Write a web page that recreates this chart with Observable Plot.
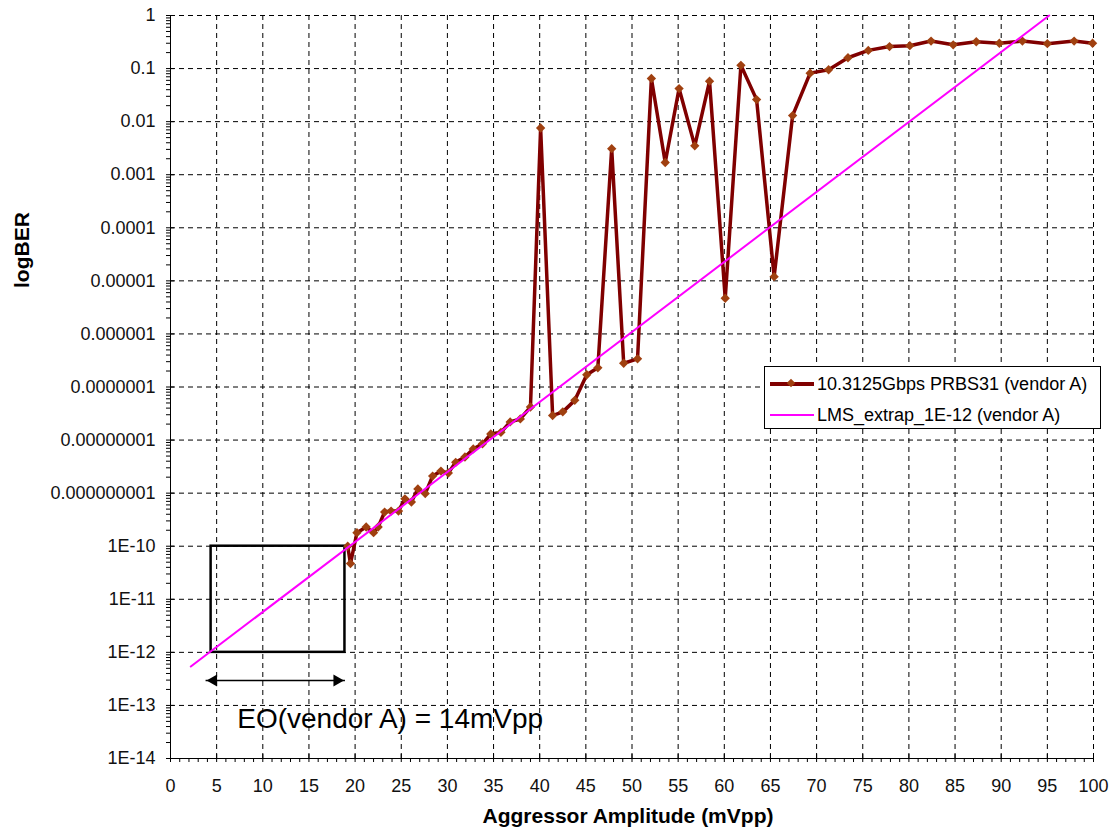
<!DOCTYPE html>
<html><head><meta charset="utf-8">
<script src="https://cdn.jsdelivr.net/npm/d3@7"></script>
<script src="https://cdn.jsdelivr.net/npm/@observablehq/plot@0.6"></script>
<style>
body{margin:0;background:#fff;}
#wrap{position:relative;width:1110px;height:837px;font-family:"Liberation Sans",Arial,sans-serif;background:#fff;}
#legend{position:absolute;left:764px;top:366px;width:337px;height:63px;border:1px solid #000;background:#fff;box-sizing:border-box;}
.row{position:absolute;left:0;height:24px;display:flex;align-items:center;font-size:18px;color:#000;white-space:nowrap;}
.sw{position:relative;width:44px;height:24px;margin-left:5px;margin-right:3px;}
.sw .ln{position:absolute;left:0;right:0;top:50%;}
.sw .dm{position:absolute;left:18px;top:8px;width:6px;height:6px;background:#a04010;transform:rotate(45deg);}
</style></head>
<body><div id="wrap"></div>
<script>
// ---- data ----
const berX = [19.2, 19.5, 20.2, 21.2, 22.0, 22.5, 23.2, 23.9, 24.7, 25.4, 26.1, 26.8, 27.6, 28.4, 29.3, 30.1, 30.9, 31.9, 32.8, 33.8, 34.7, 35.8, 36.8, 37.9, 39.0, 40.1, 41.4, 42.5, 43.8, 45.1, 46.3, 47.8, 49.1, 50.6, 52.1, 53.6, 55.1, 56.8, 58.4, 60.1, 61.8, 63.5, 65.4, 67.4, 69.3, 71.3, 73.4, 75.6, 77.9, 80.1, 82.4, 84.8, 87.3, 89.8, 92.3, 95.0, 97.9, 99.9];
const berY = [1.0e-10, 4.7e-11, 1.8e-10, 2.3e-10, 1.8e-10, 2.3e-10, 4.4e-10, 4.6e-10, 4.6e-10, 7.8e-10, 6.8e-10, 1.2e-9, 9.8e-10, 2.1e-9, 2.6e-9, 2.4e-9, 3.8e-9, 4.8e-9, 6.8e-9, 8.5e-9, 1.3e-8, 1.4e-8, 2.2e-8, 2.5e-8, 4.2e-8, 7.6e-3, 2.9e-8, 3.4e-8, 5.6e-8, 1.7e-7, 2.3e-7, 3.1e-3, 2.8e-7, 3.4e-7, 6.5e-2, 1.7e-3, 4.2e-2, 3.5e-3, 5.8e-2, 4.7e-6, 1.15e-1, 2.6e-2, 1.2e-5, 1.3e-2, 8.2e-2, 9.5e-2, 1.6e-1, 2.2e-1, 2.6e-1, 2.7e-1, 3.3e-1, 2.8e-1, 3.2e-1, 3.0e-1, 3.3e-1, 2.95e-1, 3.3e-1, 3.0e-1];
const fitX = [2.2, 95.2];
const fitY = [5.4e-13, 1];
const seriesNames = ["10.3125Gbps PRBS31 (vendor A)", "LMS_extrap_1E-12 (vendor A)"];
const xTicks = [0, 5, 10, 15, 20, 25, 30, 35, 40, 45, 50, 55, 60, 65, 70, 75, 80, 85, 90, 95, 100];
const yTicks = [1, 1e-1, 1e-2, 1e-3, 1e-4, 1e-5, 1e-6, 1e-7, 1e-8, 1e-9, 1e-10, 1e-11, 1e-12, 1e-13, 1e-14];
const yTickLabels = ["1", "0.1", "0.01", "0.001", "0.0001", "0.00001", "0.000001", "0.0000001", "0.00000001", "0.000000001", "1E-10", "1E-11", "1E-12", "1E-13", "1E-14"];
const minorMult = [2, 3, 4, 5, 6, 7, 8, 9];
const boxX = [4.4, 18.9];
const boxY = [1e-12, 1e-10];
const arrowX = [3.8, 18.9];
const arrowY = [2.95e-13, 2.95e-13];
const noteX = [23.8];
const noteY = [5.6e-14];
const noteText = ["EO(vendor A) = 14mVpp"];
const xTitle = "Aggressor Amplitude (mVpp)";
const yTitle = "logBER";

// ---- derived tables ----
const ber = berX.map((x, i) => ({x, y: berY[i]}));
const fit = fitX.map((x, i) => ({x, y: fitY[i]}));
const minorY = yTicks.slice(1).flatMap(d => minorMult.map(m => d * m));
const minorX = [];
for (let i = 0; i < xTicks.length - 1; i++) for (let k = 1; k < 5; k++) minorX.push(xTicks[i] + k);
const labelMap = new Map(yTicks.map((t, i) => [t, yTickLabels[i]]));
const rect = [{x1: boxX[0], x2: boxX[1], y1: boxY[0], y2: boxY[1]}];
const arrow = [{x1: arrowX[0], x2: arrowX[1], y1: arrowY[0], y2: arrowY[1]}];
const headL = [{x: arrowX[0], y: arrowY[0]}];
const headR = [{x: arrowX[1], y: arrowY[1]}];
const note = noteText.map((t, i) => ({x: noteX[i], y: noteY[i], t}));

const font = '"Liberation Sans", Arial, sans-serif';
const grid = {stroke: "#000", strokeOpacity: 1, strokeWidth: 1, strokeDasharray: "5,4"};
const blank = () => "";

const chart = Plot.plot({
  width: 1110, height: 837,
  marginLeft: 170, marginRight: 17, marginTop: 15, marginBottom: 79,
  style: {fontFamily: font, fontSize: "18px", color: "#000", background: "#fff"},
  x: {domain: [0, 100]},
  y: {type: "log", domain: [1e-14, 1]},
  marks: [
    Plot.gridX(xTicks, grid),
    Plot.gridY(yTicks, grid),
    Plot.ruleX([0], {stroke: "#000", strokeWidth: 1}),
    Plot.ruleY([1e-14], {stroke: "#000", strokeWidth: 1}),
    Plot.axisX({ticks: xTicks, tickSize: 8, dy: -4, tickFormat: blank, label: null, stroke: "#000"}),
    Plot.axisX({ticks: minorX, tickSize: 4, tickFormat: blank, label: null, stroke: "#000"}),
    Plot.axisX({ticks: xTicks, tickSize: 0, tickPadding: 21, tickFormat: d => String(d), label: null, fill: "#111"}),
    Plot.axisY({ticks: yTicks, tickSize: 8, dx: 4, tickFormat: blank, label: null, stroke: "#000"}),
    Plot.axisY({ticks: minorY, tickSize: 4, tickFormat: blank, label: null, stroke: "#000"}),
    Plot.axisY({ticks: yTicks, tickSize: 0, tickPadding: 15, tickFormat: d => labelMap.get(d), label: null, fill: "#111"}),
    Plot.text([yTitle], {frameAnchor: "left", dx: -148, dy: -99, rotate: -90, fontSize: 21, fontWeight: "bold", fill: "#000"}),
    Plot.text([xTitle], {frameAnchor: "bottom", dx: -4, dy: 64, fontSize: 21, fontWeight: "bold", fill: "#000"}),
    Plot.rect(rect, {x1: "x1", x2: "x2", y1: "y1", y2: "y2", fill: "none", stroke: "#000", strokeWidth: 2.5}),
    Plot.link(arrow, {x1: "x1", x2: "x2", y1: "y1", y2: "y2", stroke: "#000", strokeWidth: 1.5}),
    Plot.dot(headL, {x: "x", y: "y", rotate: -90, dx: 8, symbol: "triangle", r: 4.5, fill: "#000", stroke: "none"}),
    Plot.dot(headR, {x: "x", y: "y", rotate: 90, dx: -8, symbol: "triangle", r: 4.5, fill: "#000", stroke: "none"}),
    Plot.text(note, {x: "x", y: "y", text: "t", fontSize: 28, fill: "#000"}),
    Plot.line(ber, {x: "x", y: "y", stroke: "#800000", strokeWidth: 3.5, strokeLinejoin: "miter"}),
    Plot.dot(ber, {x: "x", y: "y", symbol: "diamond2", r: 4.2, fill: "#a04010", stroke: "none"}),
    Plot.line(fit, {x: "x", y: "y", stroke: "#ff00ff", strokeWidth: 2})
  ]
});
const wrap = document.getElementById("wrap");
wrap.appendChild(chart);

// legend
const lg = document.createElement("div");
lg.id = "legend";
lg.innerHTML =
  `<div class="row" style="top:5px"><div class="sw"><div class="ln" style="height:4px;margin-top:-2px;background:#800000"></div><div class="dm"></div></div>${seriesNames[0]}</div>` +
  `<div class="row" style="top:36px"><div class="sw"><div class="ln" style="height:2px;margin-top:-1px;background:#ff00ff"></div></div>${seriesNames[1]}</div>`;
wrap.appendChild(lg);
</script></body></html>
